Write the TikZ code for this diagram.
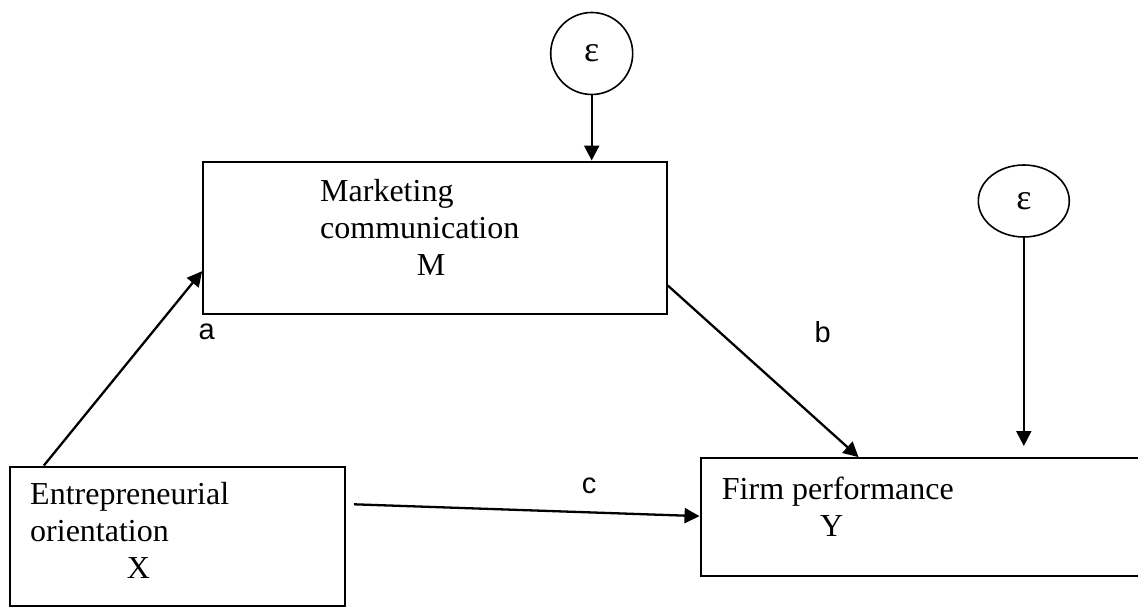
\documentclass[tikz,border=0pt]{standalone}
\usepackage{fontspec}
\setmainfont{Liberation Serif}
\newfontfamily\lblfont{Liberation Sans}
\usepackage{tikz}
\usetikzlibrary{positioning,calc,fit,shapes.geometric,arrows.meta}

\begin{document}
\begin{tikzpicture}[x=1pt,y=-1pt,
      box/.style={rectangle,draw,line width=2.3pt,inner sep=0pt},
      err/.style={ellipse,draw,line width=1.6pt,inner sep=0pt,font=\fontsize{36}{40}\selectfont},
      txt/.style={anchor=base west,inner sep=0pt,align=left,font=\fontsize{32}{36.6}\selectfont},
      lbl/.style={inner sep=0pt,font=\lblfont\fontsize{29}{33}\selectfont},
      arr/.style={line width=2.3pt,-{Triangle[length=15pt,width=15pt]}}]
    \useasboundingbox (0,0) rectangle (1138,607);
    % the three variables
    \node[box,fit={(203.3,161.7) (666.7,314)}] (mbox) {};
    \node[box,fit={(10,466.7) (345,605.7)}] (xbox) {};
    \node[box,fit={(700.7,458.3) (1160,575.7)}] (ybox) {};
    % base = last line
    \node[txt] (mtext) at (320,275) {Marketing\\communication\\\hspace*{96.7pt}M};
    \node[txt] (xtext) at (30,578) {Entrepreneurial\\orientation\\\hspace*{96.7pt}X};
    \node[txt] (ytext) at (721.7,536) {Firm performance\\\hspace*{98.3pt}Y};
    % error terms
    \node[err,minimum width=82pt,minimum height=82pt] (em) at (591.7,53.5) {ε};
    \node[err,minimum width=91pt,minimum height=72pt] (ey) at (1023.8,201) {ε};
    \coordinate (eyend) at (1023.8,446);
    \coordinate (cstart) at (354,504.3);
    % paths
    \draw[arr] (em.south) -- (em.south |- mbox.north);
    \draw[arr] (ey.south) -- (eyend);
    \draw[arr] ($(xbox.north west)+(35,0)$) -- ($(mbox.south west)+(0,-44)$);
    \draw[arr] ($(mbox.north east)+(0,125)$) -- ($(ybox.north west)+(159,0)$);
    \draw[arr] (cstart) -- ($(ybox.north west)+(0,59)$);
    \node[lbl] (la) at (206.7,331.7) {a};
    \node[lbl] (lb) at (822.7,331.7) {b};
    \node[lbl] (lc) at (589,486) {c};
  \end{tikzpicture}
\end{document}
